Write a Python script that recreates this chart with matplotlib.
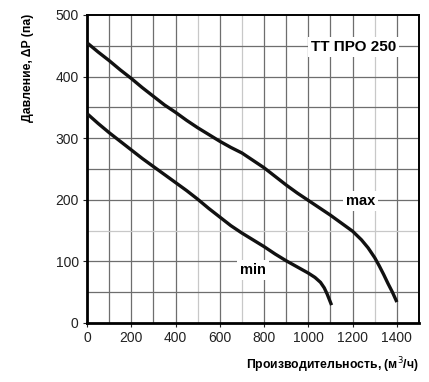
import matplotlib.pyplot as plt

plt.rcParams['font.family'] = ['Liberation Sans', 'DejaVu Sans']

# curves (flow m3/h, pressure Pa)
max_flow = [0, 50, 100, 150, 200, 250, 300, 350, 400, 450, 500, 550, 600, 650, 700, 750,
            800, 850, 900, 950, 1000, 1050, 1100, 1150, 1200, 1240, 1270, 1300, 1320, 1340,
            1360, 1380, 1400]
max_pressure = [455, 440, 426, 411, 397, 382, 368, 354, 342, 329, 317, 306, 295, 285, 276, 264,
                252, 238, 224, 211, 199, 187, 175, 162, 149, 135, 122, 106, 93, 79,
                64, 50, 34]

min_flow = [0, 50, 100, 150, 200, 250, 300, 350, 400, 450, 500, 550, 600, 650, 700, 750,
            800, 850, 900, 950, 1000, 1030, 1055, 1072, 1085, 1095, 1105]
min_pressure = [340, 324, 309, 295, 281, 267, 254, 241, 228, 215, 201, 186, 172, 158, 146, 135,
                124, 112, 101, 91, 81, 74, 66, 57, 47, 38, 29]

x_ticks = [0, 200, 400, 600, 800, 1000, 1200, 1400]
y_ticks = [0, 100, 200, 300, 400, 500]

fig = plt.figure(figsize=(4.29, 3.82), dpi=100)
ax = fig.add_axes([87 / 429, 59 / 382, 332 / 429, 308 / 382])

# grid every 100 in x and 50 in y, some lines paler like the original
light_x = [500, 700, 1300]
for gx in range(100, 1500, 100):
    c = '#c8c8c8' if gx in light_x else '#6e6e6e'
    ax.axvline(gx, color=c, lw=0.9, zorder=1)
for gy in range(50, 500, 50):
    c = '#c8c8c8' if gy == 150 else '#6e6e6e'
    ax.axhline(gy, color=c, lw=0.9, zorder=1)

ax.plot(max_flow, max_pressure, color='#111111', lw=2.4, solid_capstyle='butt',
        solid_joinstyle='round', zorder=3)
ax.plot(min_flow, min_pressure, color='#111111', lw=2.4, solid_capstyle='butt',
        solid_joinstyle='round', zorder=3)

ax.set_xlim(0, 1500)
ax.set_ylim(0, 500)
ax.set_xticks(x_ticks)
ax.set_yticks(y_ticks)
ax.tick_params(direction='out', length=3, width=0.8, labelsize=10, pad=3, colors='#222222')

for side in ['left', 'bottom']:
    ax.spines[side].set_linewidth(2.0)
for side in ['top', 'right']:
    ax.spines[side].set_linewidth(1.4)

box = dict(facecolor='white', edgecolor='none', pad=2)
ax.text(1395, 448, 'ТТ ПРО 250', ha='right', va='center', fontsize=11,
        fontweight='bold', bbox=box, zorder=4)
ax.text(1235, 198, 'max', ha='center', va='center', fontsize=10.5,
        fontweight='bold', bbox=box, zorder=4)
ax.text(750, 86, 'min', ha='center', va='center', fontsize=10.5,
        fontweight='bold', bbox=box, zorder=4)

fig.text(28 / 429, 1 - 68 / 382, 'Давление, ΔP (па)', rotation=90, ha='center', va='center',
         fontsize=8.8, fontweight='bold')
fig.text(419 / 429, 1 - 365 / 382, 'Производительность, (м$^3$/ч)', ha='right', va='center',
         fontsize=8.8, fontweight='bold')

fig.savefig('out.png', dpi=100)
